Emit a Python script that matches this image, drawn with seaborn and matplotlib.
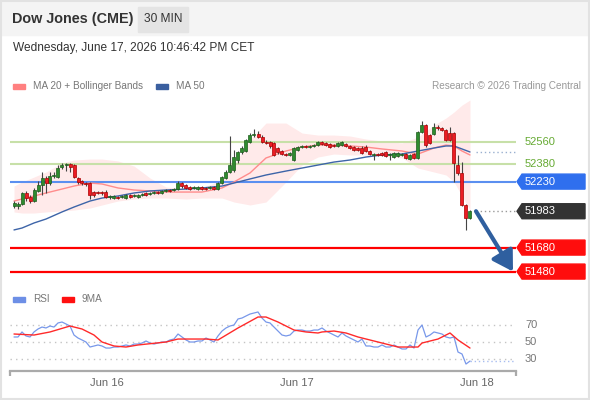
import numpy as np
import pandas as pd
import matplotlib
matplotlib.use("Agg")
import matplotlib.pyplot as plt
import seaborn as sns
from matplotlib.patches import Rectangle, Polygon

# 30 min candles
opens = [52027, 52027, 52043, 52135, 52102, 52068, 52152, 52202, 52260, 52218,
         52277, 52268, 52352, 52368, 52377, 52368, 52260, 52235, 52218, 52218,
         52143, 52143, 52143, 52143, 52102, 52093, 52102, 52102, 52093, 52118,
         52110, 52102, 52118, 52135, 52127, 52135, 52143, 52135, 52152, 52160,
         52160, 52168, 52218, 52202, 52185, 52177, 52168, 52185, 52177, 52177,
         52185, 52168, 52218, 52260, 52310, 52327, 52410, 52477, 52485, 52560,
         52618, 52627, 52602, 52560, 52560, 52552, 52510, 52485, 52460, 52452,
         52410, 52493, 52518, 52527, 52518, 52527, 52535, 52560, 52552, 52543,
         52535, 52527, 52535, 52543, 52527, 52518, 52510, 52510, 52518, 52485,
         52452, 52460, 52468, 52477, 52452, 52435, 52443, 52452, 52460, 52418,
         52460, 52427, 52643, 52702, 52618, 52627, 52685, 52677, 52660, 52635,
         52635, 52368, 52302, 52035, 51927]
closes = [52052, 52043, 52135, 52093, 52068, 52160, 52202, 52260, 52218, 52277,
          52285, 52343, 52368, 52377, 52352, 52268, 52227, 52218, 52210, 52118,
          52118, 52135, 52135, 52102, 52110, 52110, 52093, 52110, 52118, 52102,
          52118, 52118, 52127, 52118, 52135, 52143, 52135, 52152, 52160, 52152,
          52168, 52218, 52193, 52177, 52168, 52185, 52185, 52168, 52168, 52185,
          52168, 52218, 52268, 52310, 52368, 52435, 52477, 52510, 52577, 52618,
          52627, 52602, 52560, 52552, 52527, 52452, 52477, 52460, 52452, 52468,
          52510, 52518, 52527, 52518, 52527, 52535, 52560, 52543, 52535, 52518,
          52527, 52552, 52560, 52527, 52510, 52493, 52493, 52468, 52485, 52460,
          52460, 52452, 52452, 52443, 52460, 52468, 52468, 52460, 52427, 52452,
          52427, 52643, 52702, 52535, 52552, 52685, 52677, 52660, 52577, 52577,
          52385, 52302, 52035, 51927, 51983]
highs = [52068, 52060, 52143, 52152, 52118, 52177, 52235, 52310, 52277, 52310,
         52310, 52368, 52385, 52385, 52385, 52377, 52268, 52243, 52227, 52227,
         52152, 52152, 52152, 52160, 52118, 52118, 52110, 52118, 52127, 52127,
         52127, 52127, 52135, 52143, 52143, 52152, 52152, 52160, 52168, 52168,
         52177, 52235, 52227, 52210, 52193, 52193, 52193, 52193, 52185, 52193,
         52193, 52227, 52277, 52327, 52610, 52493, 52485, 52527, 52585, 52635,
         52668, 52652, 52618, 52577, 52568, 52560, 52518, 52493, 52468, 52477,
         52518, 52527, 52535, 52535, 52535, 52543, 52568, 52568, 52560, 52552,
         52543, 52560, 52568, 52552, 52535, 52527, 52518, 52527, 52535, 52493,
         52468, 52468, 52477, 52485, 52468, 52477, 52477, 52468, 52468, 52460,
         52468, 52652, 52735, 52710, 52627, 52718, 52702, 52685, 52668, 52685,
         52643, 52452, 52393, 52043, 51993]
lows = [52010, 52002, 52035, 52068, 52052, 52060, 52143, 52118, 52135, 52202,
        52260, 52260, 52335, 52318, 52310, 52260, 52210, 52202, 52193, 52085,
        52102, 52127, 52118, 52093, 52085, 52085, 52085, 52093, 52085, 52093,
        52102, 52093, 52110, 52110, 52118, 52127, 52127, 52127, 52143, 52143,
        52152, 52160, 52177, 52168, 52160, 52168, 52160, 52160, 52160, 52168,
        52160, 52160, 52210, 52252, 52302, 52310, 52385, 52460, 52477, 52552,
        52602, 52593, 52552, 52543, 52510, 52443, 52460, 52452, 52443, 52443,
        52402, 52485, 52510, 52510, 52510, 52518, 52527, 52535, 52527, 52510,
        52518, 52518, 52527, 52518, 52502, 52485, 52485, 52460, 52477, 52452,
        52410, 52443, 52443, 52435, 52410, 52427, 52435, 52443, 52418, 52410,
        52418, 52418, 52635, 52518, 52543, 52618, 52660, 52652, 52568, 52568,
        52227, 52285, 52027, 51827, 51918]

# moving averages + bollinger bands, sampled at these bars
ma_idx = [0, 2, 5, 8, 12, 15, 19, 22, 26, 30, 34, 38, 43, 47, 52, 55,
          59, 63, 68, 72, 76, 80, 84, 88, 92, 97, 101, 105, 108, 110, 112, 114]
ma20 = [52068, 52085, 52110, 52135, 52168, 52193, 52218, 52210, 52177, 52160,
        52152, 52143, 52143, 52143, 52177, 52227, 52302, 52427, 52485, 52518,
        52535, 52535, 52527, 52518, 52502, 52485, 52460, 52510, 52535, 52527,
        52485, 52452]
bb_upper = [52193, 52227, 52268, 52310, 52385, 52410, 52418, 52418, 52402, 52360,
            52260, 52185, 52168, 52177, 52243, 52368, 52577, 52718, 52718, 52635,
            52618, 52618, 52610, 52585, 52568, 52552, 52602, 52702, 52760, 52810,
            52868, 52910]
bb_lower = [51977, 51968, 51968, 51977, 51985, 51993, 52010, 52035, 52068, 52085,
            52093, 52093, 52085, 52093, 52093, 52060, 52035, 52060, 52227, 52368,
            52435, 52460, 52452, 52452, 52443, 52427, 52343, 52310, 52285, 52227,
            52110, 51993]
ma50 = [51827, 51843, 51885, 51918, 51977, 52018, 52068, 52093, 52110, 52135,
        52152, 52160, 52168, 52177, 52193, 52218, 52252, 52285, 52318, 52343,
        52368, 52393, 52410, 52435, 52452, 52460, 52485, 52510, 52527, 52527,
        52502, 52477]

# RSI per bar and its 9 period average (sampled)
rsi = [55.9, 55.9, 61.8, 57.1, 55.9, 61.8, 65.3, 67.6, 66.5, 68.8,
       67.6, 72.4, 73.5, 71.2, 68.8, 58.2, 54.7, 52.4, 50.0, 44.1,
       45.3, 46.5, 45.3, 42.9, 42.9, 44.1, 44.1, 45.3, 46.5, 45.3,
       47.6, 47.6, 48.8, 51.2, 48.8, 47.6, 48.8, 50.0, 50.0, 52.4,
       53.5, 59.4, 55.9, 52.4, 50.0, 50.0, 51.2, 51.2, 54.7, 52.4,
       50.0, 57.1, 62.9, 66.5, 68.8, 70.0, 77.1, 78.2, 80.6, 82.9,
       84.1, 85.3, 78.2, 73.5, 72.4, 67.6, 62.9, 58.2, 57.1, 58.2,
       62.9, 64.1, 64.1, 62.9, 62.9, 64.1, 64.1, 66.5, 62.9, 60.6,
       58.2, 55.9, 60.6, 57.1, 54.7, 52.4, 50.0, 53.5, 45.3, 45.3,
       44.1, 44.1, 46.5, 44.1, 44.1, 46.5, 44.1, 41.8, 41.8, 46.5,
       42.9, 64.1, 70.0, 55.9, 58.2, 61.8, 60.6, 59.4, 55.9, 54.7,
       55.9, 38.2, 35.9, 24.1, 27.6]
rsi_ma_idx = [0, 5, 9, 14, 17, 20, 22, 25, 28, 31, 38, 41, 48, 51, 56, 61, 63,
              66, 70, 73, 76, 77, 80, 83, 86, 91, 96, 101, 102, 106, 109, 111, 114]
rsi_ma = [59.4, 58.2, 61.8, 68.8, 65.3, 58.2, 50.0, 45.3, 44.1, 46.5, 50.0,
          53.5, 53.5, 52.4, 66.5, 79.4, 79.4, 73.5, 64.1, 61.8, 60.6, 61.8,
          62.9, 60.6, 55.9, 50.0, 44.1, 44.1, 48.8, 53.5, 60.6, 52.4, 42.9]

resistances = [52560, 52380]
pivot = 52230
supports = [51680, 51480]
last_price = 51983

rsi_levels = [70, 50, 30]
date_ticks = [23.25, 70.75, 115.75]
date_labels = ["Jun 16", "Jun 17", "Jun 18"]

W, H = 590, 400


def box(l, t, r, b):
    return [l / W, 1 - b / H, (r - l) / W, (b - t) / H]


sns.set_theme(style="white")
plt.rcParams["font.family"] = ["Liberation Sans", "DejaVu Sans"]

fig = plt.figure(figsize=(W / 100, H / 100), dpi=100)

# header strip, frame
fig.add_artist(Rectangle((0, 1 - 35 / H), 1, 35 / H, transform=fig.transFigure,
                         color="#f4f4f4", zorder=0))
fig.add_artist(Rectangle((0.001, 0.002), 0.997, 0.996, transform=fig.transFigure,
                         fill=False, edgecolor="#e2e2e2", lw=1.5, zorder=0))
fig.add_artist(Rectangle((138 / W, 1 - 32 / H), 50 / W, 25 / H,
                         transform=fig.transFigure, color="#e4e4e4", zorder=1))
fig.text(12 / W, 1 - 19 / H, "Dow Jones (CME)", fontsize=10.4, fontweight="bold",
         color="#333333", va="center")
fig.text(163 / W, 1 - 19.5 / H, "30 MIN", fontsize=8.6, color="#333333",
         va="center", ha="center")
fig.text(13 / W, 1 - 48 / H, "Wednesday, June 17, 2026 10:46:42 PM CET",
         fontsize=8.6, color="#333333", va="center")

# legends
def legend_item(x, y, color, label):
    fig.add_artist(Rectangle((x / W, 1 - (y + 2.5) / H), 12 / W, 5 / H,
                             transform=fig.transFigure, color=color))
    fig.text((x + 20) / W, 1 - y / H, label, fontsize=7.2, color="#777777", va="center")


legend_item(13, 86, "#ff8080", "MA 20 + Bollinger Bands")
legend_item(156, 86, "#3a5f9f", "MA 50")
fig.text(581 / W, 1 - 86 / H, "Research \u00a9 2026 Trading Central", fontsize=7.2,
         color="#999999", va="center", ha="right")
legend_item(13, 299, "#6d8fe6", "RSI")
legend_item(62, 299, "#ff1010", "9MA")

# ---- price panel
ax = fig.add_axes(box(10, 92, 516, 285))
n = len(closes)
x = np.arange(n)
o = np.array(opens)
c = np.array(closes)
ax.set_xlim(-1, 125.5)
ax.set_ylim(51368, 52977)

ma_df = pd.DataFrame({"idx": ma_idx, "ma20": ma20, "ma50": ma50,
                      "upper": bb_upper, "lower": bb_lower})
ax.fill_between(ma_df.idx, ma_df.lower, ma_df.upper, color="#ffdcdc",
                alpha=0.6, lw=0, zorder=1)

for lv in resistances:
    ax.axhline(lv, color="#c7e0a8", lw=1.5, zorder=2)
ax.axhline(pivot, color="#5b8ff0", lw=1.5, zorder=2)
for lv in supports:
    ax.axhline(lv, color="#ff0000", lw=1.6, zorder=2)

sns.lineplot(data=ma_df, x="idx", y="ma20", ax=ax, color="#ff8c8c", lw=1, zorder=3)
sns.lineplot(data=ma_df, x="idx", y="ma50", ax=ax, color="#3d64a8", lw=1, zorder=3)
ax.plot([n + 0.5, 125.5], [ma50[-1], ma50[-1]], ls=(0, (1, 2)), color="#9ab0d0",
        lw=1, zorder=2)
ax.plot([n + 0.5, 125.5], [last_price, last_price], ls=(0, (1, 2)),
        color="#999999", lw=1, zorder=2)

# candles
up = c >= o
body = np.maximum(np.abs(c - o), 8)
ax.vlines(x, lows, highs, color="#444444", lw=0.8, zorder=4)
ax.bar(x[up], body[up], bottom=o[up], width=0.75, color="#2e8b2e",
       edgecolor="#1d5c1d", lw=0.5, zorder=5)
ax.bar(x[~up], body[~up], bottom=c[~up], width=0.75, color="#ec1c24",
       edgecolor="#a80000", lw=0.5, zorder=5)

ax.annotate("", xy=(n + 9.75, supports[-1]), xytext=(n + 0.5, last_price),
            arrowprops=dict(arrowstyle="-|>,head_width=0.6,head_length=1.0",
                            color="#2f5f9f", lw=3, shrinkA=0, shrinkB=0),
            annotation_clip=False, zorder=6)

ax.set_xlabel(None)
ax.set_ylabel(None)
ax.set_xticks([])
ax.set_yticks([])
for s in ax.spines.values():
    s.set_visible(False)

# right side price tags
ytr = ax.get_yaxis_transform()
tip, x0, x1, tx = 1.002, 1.0119, 1.1364, 1.0178
half = 7.5 * 8.333


def tag(y, text, color):
    ax.add_patch(Polygon([[tip, y], [x0, y + half], [x1, y + half],
                          [x1, y - half], [x0, y - half]], closed=True,
                         transform=ytr, clip_on=False, color=color))
    ax.text(tx, y, str(text), transform=ytr, color="white", fontsize=8,
            va="center", ha="left")


for lv in resistances:
    ax.text(tx, lv, str(lv), transform=ytr, color="#66aa33", fontsize=8,
            va="center", ha="left")
tag(pivot, pivot, "#2f6fee")
tag(last_price, last_price, "#333333")
for lv in supports:
    tag(lv, lv, "#ff0d0d")

# ---- RSI panel
ax2 = fig.add_axes(box(10, 300, 516, 371))
ax2.set_xlim(-1, 125.5)
ax2.set_ylim(15.9, 99.4)
for lv in rsi_levels:
    ax2.axhline(lv, color="#c4c4c4", lw=1, ls=(0, (1, 3)), zorder=1)
    ax2.text(tx, lv, str(lv), transform=ax2.get_yaxis_transform(),
             color="#777777", fontsize=8, va="center", ha="left")

rsi_df = pd.DataFrame({"idx": x, "rsi": rsi})
sns.lineplot(data=rsi_df, x="idx", y="rsi", ax=ax2, color="#7898ea", lw=0.9, zorder=3)
sns.lineplot(x=rsi_ma_idx, y=rsi_ma, ax=ax2, color="#ff2a2a", lw=1, zorder=3)
ax2.plot([n - 1, 125.5], [rsi[-1], rsi[-1]], ls=(0, (1, 2)), color="#a8bdf0",
         lw=1, zorder=2)

ax2.set_xlabel(None)
ax2.set_ylabel(None)
ax2.set_yticks([])
for side in ["top", "left", "right"]:
    ax2.spines[side].set_visible(False)
ax2.spines["bottom"].set_color("#aaaaaa")
ax2.spines["bottom"].set_linewidth(1.6)
ax2.set_xticks(date_ticks)
ax2.set_xticklabels(date_labels, fontsize=8, color="#666666")
ax2.tick_params(axis="x", which="major", length=0, pad=5)
# small end ticks of the time axis
ax2.vlines([-1, 125.5], -0.07, 0, transform=ax2.get_xaxis_transform(),
           color="#aaaaaa", lw=1.6, clip_on=False)

fig.savefig("out.png", dpi=100)
